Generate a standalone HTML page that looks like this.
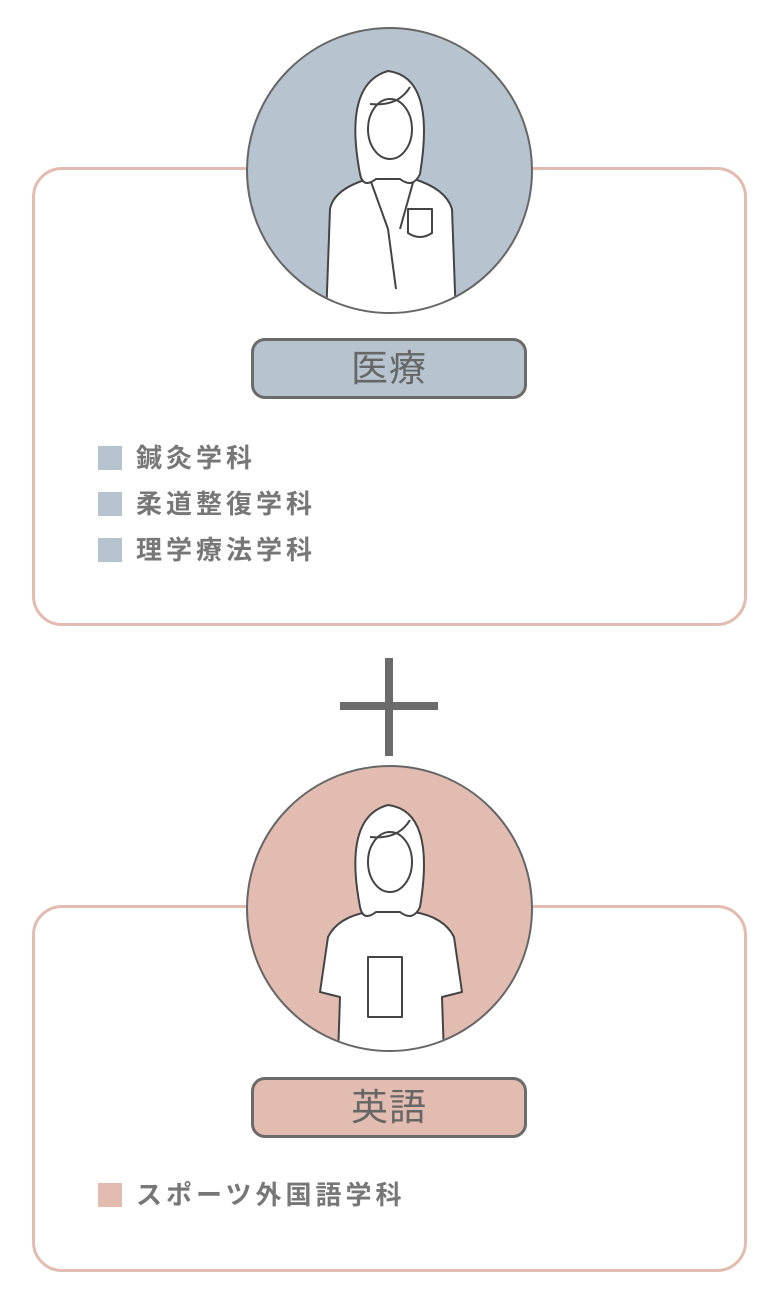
<!DOCTYPE html>
<html><head><meta charset="utf-8"><style>
body{margin:0;width:776px;height:1290px;background:#fff;position:relative;overflow:hidden;font-family:"Liberation Sans","Noto Sans CJK JP",sans-serif}
.card{position:absolute;left:32px;width:715px;border:3px solid #e2bcb0;border-radius:30px;box-sizing:border-box}
.circ{position:absolute;left:246px;width:287px;height:287px;border-radius:50%;border:2px solid #666;box-sizing:border-box;overflow:hidden}
.lab{position:absolute;left:251px;width:276px;height:61px;border:3px solid #6b6b6b;border-radius:14px;box-sizing:border-box;text-align:center;line-height:55px;font-size:37px;color:#666;letter-spacing:1px}
.item{position:absolute;left:98px;height:26px;font-size:26px;font-weight:bold;color:#777;letter-spacing:4px;line-height:26px}
.item i{display:inline-block;width:24px;height:24px;vertical-align:top;margin-right:14px;margin-top:1px}
</style></head><body>
<div class="card" style="top:167px;height:459px"></div>
<div class="circ" style="top:27px;background:#b7c4d0">
<svg width="286" height="286" viewBox="0 0 286 286" fill="#fff" stroke="#444" stroke-width="2" stroke-linejoin="round">
<path d="M78 290 L82 180 Q86 160 120 150 L166 150 Q198 160 204 180 L208 290Z"/>
<path d="M122 150 L140 200 L148 260 M166 150 L152 200" fill="none"/>
<path d="M160 180 h24 v24 q-12 8 -24 0z"/>
<path d="M112 145 Q95 55 140 42 Q188 48 172 145 Q165 160 152 150 L128 150 Q115 160 112 145Z"/>
<ellipse cx="142" cy="100" rx="22" ry="30"/>
<path d="M122 75 Q150 78 162 58" fill="none"/>
</svg></div>
<div class="lab" style="top:338px;background:#b7c4d0">医療</div>
<div class="item" style="top:445px"><i style="background:#b7c4d0"></i>鍼灸学科</div>
<div class="item" style="top:491px"><i style="background:#b7c4d0"></i>柔道整復学科</div>
<div class="item" style="top:537px"><i style="background:#b7c4d0"></i>理学療法学科</div>

<div style="position:absolute;left:340px;top:702px;width:98px;height:8px;background:#6b6b6b"></div>
<div style="position:absolute;left:385px;top:658px;width:8px;height:98px;background:#6b6b6b"></div>

<div class="card" style="top:905px;height:367px"></div>
<div class="circ" style="top:765px;background:#e2bcb0">
<svg width="286" height="286" viewBox="0 0 286 286" fill="#fff" stroke="#444" stroke-width="2" stroke-linejoin="round">
<path d="M90 290 L92 230 L72 225 L80 170 Q90 150 120 145 L166 145 Q196 150 206 170 L214 225 L194 230 L196 290Z"/>
<path d="M120 190 h34 v60 h-34z"/>
<path d="M112 140 Q95 50 140 38 Q188 44 172 140 Q165 155 152 145 L128 145 Q115 155 112 140Z"/>
<ellipse cx="142" cy="95" rx="22" ry="30"/>
<path d="M122 70 Q150 73 162 53" fill="none"/>
</svg></div>
<div class="lab" style="top:1077px;background:#e2bcb0">英語</div>
<div class="item" style="top:1182px"><i style="background:#e2bcb0"></i>スポーツ外国語学科</div>
</body></html>
